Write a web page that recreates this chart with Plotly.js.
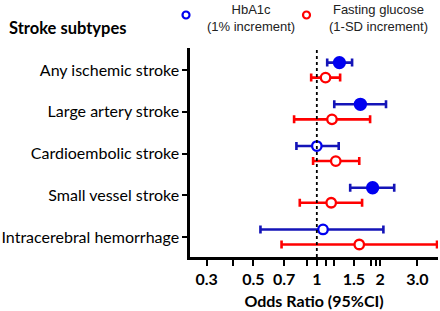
<!DOCTYPE html>
<html><head><meta charset="utf-8">
<script src="https://cdn.plot.ly/plotly-3.0.1.min.js"></script>
<style>html,body{margin:0;padding:0;background:#fff}#c{width:440px;height:311px}</style>
</head><body><div id="c"></div>
<script>
const categories = ["Any ischemic stroke","Large artery stroke","Cardioembolic stroke","Small vessel stroke","Intracerebral hemorrhage"];
const hba1cOR = [1.28, 1.61, 1.00, 1.84, 1.07];
const hba1cLo = [1.12, 1.21, 0.80, 1.44, 0.54];
const hba1cHi = [1.47, 2.13, 1.27, 2.33, 2.07];
const fgOR = [1.10, 1.18, 1.23, 1.17, 1.59];
const fgLo = [0.94, 0.78, 0.96, 0.83, 0.68];
const fgHi = [1.29, 1.79, 1.59, 1.64, 3.72];
const tickVals = [0.3,0.4,0.5,0.7,0.9,1,1.1,1.2,1.5,1.8,1.9,2,3];
const tickText = ["0.3","","0.5","0.7","","1","","","1.5","","","2","3.0"];
const seriesNames = ["HbA1c<br>(1% increment)","Fasting glucose<br>(1-SD increment)"];

const BLUE = "#0000f0", BLUEBAR = "#1414b8", RED = "#ff0000";
const off = 0.18;
function trace(or, lo, hi, dy, col, barcol){
  const sig = or.map((v,i)=> (lo[i]>1 || hi[i]<1));
  return {
    type:"scatter", mode:"markers",
    x: or, y: or.map((v,i)=> i+dy),
    error_x:{type:"data", symmetric:false,
      array: or.map((v,i)=> hi[i]-v), arrayminus: or.map((v,i)=> v-lo[i]),
      color: barcol, thickness: 2.6, width: 4},
    marker:{size: sig.map(s=> s?11:9.5), color: sig.map(s=> s?col:"#ffffff"), opacity:1,
      line:{color: col, width: 2.3}},
    showlegend:false, hoverinfo:"skip"
  };
}
const data = [
  trace(hba1cOR, hba1cLo, hba1cHi, -off, BLUE, BLUEBAR),
  trace(fgOR, fgLo, fgHi, off, RED, RED)
];
const F = "Lato, 'Open Sans', sans-serif";
const layout = {
  width:440, height:311,
  margin:{l:190, r:2, t:48, b:54},
  paper_bgcolor:"#fff", plot_bgcolor:"#fff",
  xaxis:{type:"log", range:[Math.log10(0.25), Math.log10(3.76)],
    tickvals: tickVals, ticktext: tickText, ticks:"outside", ticklen:6, tickwidth:2,
    tickcolor:"#000", showline:true, linewidth:2.6, linecolor:"#000", showgrid:false, zeroline:false,
    tickfont:{family:F, size:16, color:"#000", weight:"bold"},
    title:{text:"Odds Ratio (95%CI)", font:{family:F, size:16, color:"#000", weight:"bold"}, standoff:9}},
  yaxis:{range:[4.48,-0.53], tickvals:[0,1,2,3,4], ticktext: categories, ticks:"outside", ticklen:5, tickwidth:2,
    tickcolor:"#000", showline:true, linewidth:2.6, linecolor:"#000", showgrid:false, zeroline:false,
    tickfont:{family:F, size:16, color:"#000"}},
  shapes:[
    {type:"line", xref:"x", yref:"paper", x0:1, x1:1, y0:0, y1:1, line:{color:"#000", width:1.8, dash:"dot"}},
    {type:"circle", xref:"paper", yref:"paper", x0:(182.5-190)/248, x1:(189.5-190)/248, y0:(257-18.5)/209, y1:(257-11.5)/209, line:{color:BLUE,width:2.2}, fillcolor:"#fff"},
    {type:"circle", xref:"paper", yref:"paper", x0:(303-190)/248, x1:(310-190)/248, y0:(257-18.5)/209, y1:(257-11.5)/209, line:{color:RED,width:2.2}, fillcolor:"#fff"}
  ],
  annotations:[
    {xref:"paper", yref:"paper", x:(7-190)/248, y:(257-28)/209, xanchor:"left", yanchor:"middle", showarrow:false,
      text:"Stroke subtypes", font:{family:F, size:16.5, color:"#000", weight:"bold"}},
    {xref:"paper", yref:"paper", x:(251-190)/248, y:(257-1)/209, xanchor:"center", yanchor:"top", showarrow:false, align:"center",
      text: seriesNames[0], font:{family:"'Liberation Sans', Arial, sans-serif", size:13, color:"#222"}, borderpad:0},
    {xref:"paper", yref:"paper", x:(378-190)/248, y:(257-1)/209, xanchor:"center", yanchor:"top", showarrow:false, align:"center",
      text: seriesNames[1], font:{family:"'Liberation Sans', Arial, sans-serif", size:13, color:"#222"}, borderpad:0}
  ]
};
Plotly.newPlot("c", data, layout, {staticPlot:true, displayModeBar:false});
</script></body></html>
